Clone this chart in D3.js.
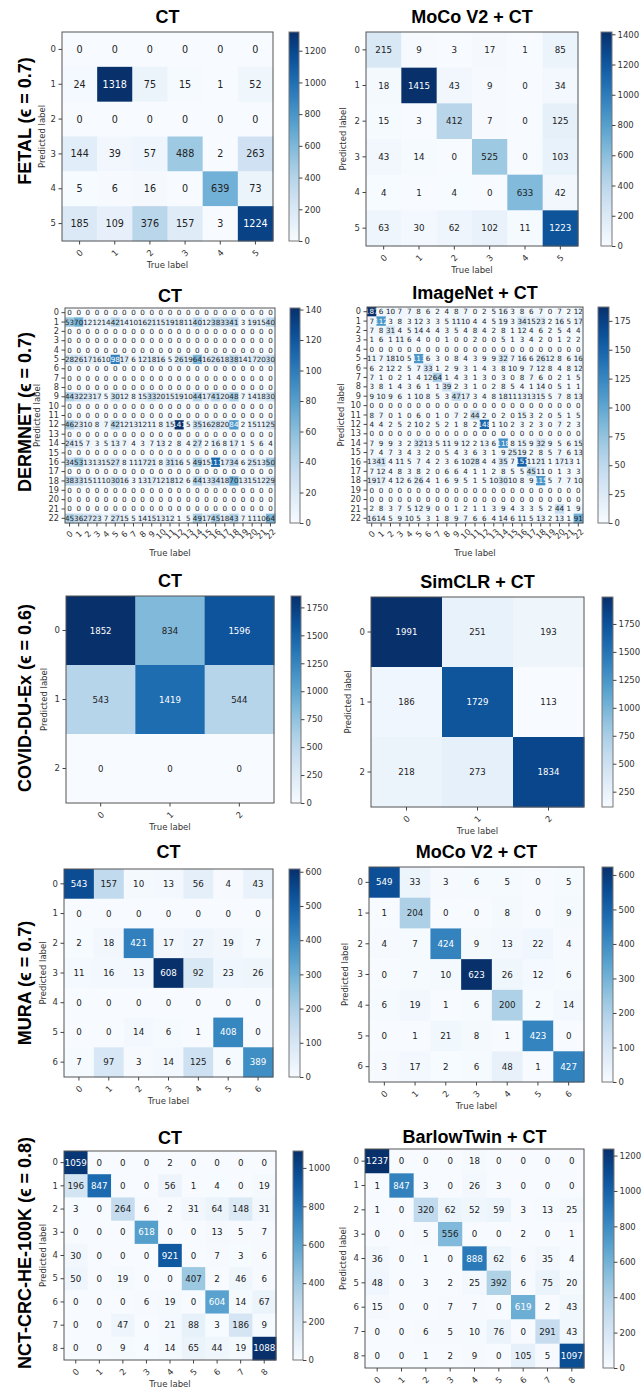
<!DOCTYPE html>
<html>
<head>
<meta charset="utf-8">
<script src="https://d3js.org/d3.v7.min.js"></script>
<style>
  body { margin: 0; background: #fff; }
  svg text { font-family: "DejaVu Sans", sans-serif; }
  .title, .rowlab { font-family: "Liberation Sans", Arial, sans-serif; font-weight: bold; }
</style>
</head>
<body>
<svg id="fig" width="643" height="1387"></svg>
<script>
// ---- data ----
const classes3 = ["0", "1", "2"];
const classes6 = ["0", "1", "2", "3", "4", "5"];
const classes7 = ["0", "1", "2", "3", "4", "5", "6"];
const classes9 = ["0", "1", "2", "3", "4", "5", "6", "7", "8"];
const classes23 = ["0", "1", "2", "3", "4", "5", "6", "7", "8", "9", "10", "11", "12",
  "13", "14", "15", "16", "17", "18", "19", "20", "21", "22"];

const rowLabels = ["FETAL (\u03F5 = 0.7)", "DERMNET (\u03F5 = 0.7)", "COVID-DU-Ex (\u03F5 = 0.6)",
  "MURA (\u03F5 = 0.7)", "NCT-CRC-HE-100K (\u03F5 = 0.8)"];

const fetalCT = [
  [0, 0, 0, 0, 0, 0],
  [24, 1318, 75, 15, 1, 52],
  [0, 0, 0, 0, 0, 0],
  [144, 39, 57, 488, 2, 263],
  [5, 6, 16, 0, 639, 73],
  [185, 109, 376, 157, 3, 1224]];
const fetalMoco = [
  [215, 9, 3, 17, 1, 85],
  [18, 1415, 43, 9, 0, 34],
  [15, 3, 412, 7, 0, 125],
  [43, 14, 0, 525, 0, 103],
  [4, 1, 4, 0, 633, 42],
  [63, 30, 62, 102, 11, 1223]];

const dermCT = [
  [0,0,0,0,0,0,0,0,0,0,0,0,0,0,0,0,0,0,0,0,0,0,0],
  [53,70,12,12,14,42,14,10,16,21,15,19,18,11,40,12,38,33,41,3,19,15,40],
  [0,0,0,0,0,0,0,0,0,0,0,0,0,0,0,0,0,0,0,0,0,0,0],
  [0,0,0,0,0,0,0,0,0,0,0,0,0,0,0,0,0,0,0,0,0,0,0],
  [0,0,0,0,0,0,0,0,0,0,0,0,0,0,0,0,0,0,0,0,0,0,0],
  [28,26,17,16,10,98,17,6,12,18,16,5,26,19,64,16,26,18,38,14,17,20,30],
  [0,0,0,0,0,0,0,0,0,0,0,0,0,0,0,0,0,0,0,0,0,0,0],
  [0,0,0,0,0,0,0,0,0,0,0,0,0,0,0,0,0,0,0,0,0,0,0],
  [0,0,0,0,0,0,0,0,0,0,0,0,0,0,0,0,0,0,0,0,0,0,0],
  [44,32,23,17,5,30,12,8,15,33,20,15,19,10,44,17,41,20,48,7,14,18,30],
  [0,0,0,0,0,0,0,0,0,0,0,0,0,0,0,0,0,0,0,0,0,0,0],
  [0,0,0,0,0,0,0,0,0,0,0,0,0,0,0,0,0,0,0,0,0,0,0],
  [46,23,10,8,7,42,12,13,12,11,8,15,141,5,35,16,28,20,84,2,15,11,25],
  [0,0,0,0,0,0,0,0,0,0,0,0,0,0,0,0,0,0,0,0,0,0,0],
  [24,15,7,3,5,13,7,4,3,7,13,2,8,4,27,2,16,8,17,1,5,6,4],
  [0,0,0,0,0,0,0,0,0,0,0,0,0,0,0,0,0,0,0,0,0,0,0],
  [34,53,13,13,15,27,8,11,17,21,8,31,16,5,49,15,111,17,34,6,25,13,50],
  [0,0,0,0,0,0,0,0,0,0,0,0,0,0,0,0,0,0,0,0,0,0,0],
  [38,33,15,11,10,30,16,3,13,17,12,18,12,6,44,13,34,18,70,13,15,12,29],
  [0,0,0,0,0,0,0,0,0,0,0,0,0,0,0,0,0,0,0,0,0,0,0],
  [0,0,0,0,0,0,0,0,0,0,0,0,0,0,0,0,0,0,0,0,0,0,0],
  [0,0,0,0,0,0,0,0,0,0,0,0,0,0,0,0,0,0,0,0,0,0,0],
  [45,36,27,23,7,27,15,5,14,15,13,12,1,5,49,17,45,18,43,7,11,10,64]];
const dermImageNet = [
  [187,6,10,7,7,8,6,2,4,8,7,0,2,5,16,3,8,6,7,0,7,2,12],
  [7,112,3,8,3,12,3,3,5,11,10,4,4,5,19,3,34,15,23,2,16,5,17],
  [7,8,31,4,5,14,4,4,3,5,4,8,4,2,8,1,12,4,6,2,5,4,4],
  [1,6,1,11,6,4,0,0,1,0,0,2,0,0,5,1,3,4,2,0,1,2,2],
  [0,0,0,0,0,0,0,0,0,0,0,0,0,0,0,0,0,0,0,0,0,0,0],
  [11,7,18,10,5,113,6,3,0,8,4,3,9,9,32,7,16,6,26,12,8,6,16],
  [6,2,12,2,5,7,33,1,2,9,3,1,4,3,8,10,9,7,12,8,4,8,12],
  [7,1,0,2,1,4,12,64,1,4,3,1,3,0,3,0,8,7,6,0,2,1,5],
  [3,8,1,4,3,6,1,1,39,2,3,1,0,2,8,5,4,1,14,0,5,1,1],
  [9,10,9,6,1,10,8,5,3,47,17,3,4,8,18,11,13,13,15,5,7,8,13],
  [0,0,0,0,0,0,0,0,0,0,0,0,0,0,0,0,0,0,0,0,0,0,0],
  [8,7,0,1,0,6,0,1,0,7,2,44,2,0,2,0,15,3,2,0,5,1,5],
  [4,4,2,5,2,10,2,5,2,1,8,2,148,1,10,2,3,2,3,0,7,2,3],
  [0,0,0,0,0,0,0,0,0,0,0,0,0,0,0,0,0,0,0,0,0,0,0],
  [7,9,9,3,2,32,13,5,11,9,12,2,13,6,118,8,15,9,32,9,5,6,15],
  [7,4,7,3,4,3,2,0,5,4,3,6,3,1,9,25,19,2,8,5,7,6,13],
  [13,41,4,11,5,7,4,2,3,6,10,28,4,4,35,7,151,11,21,1,17,13,1],
  [7,12,4,8,3,8,2,0,6,6,4,1,1,2,8,5,5,45,11,0,1,3,3],
  [19,17,4,12,6,26,4,1,6,9,5,1,5,10,30,10,8,9,115,5,7,7,10],
  [0,0,0,0,0,0,0,0,0,0,0,0,0,0,0,0,0,0,0,0,0,0,0],
  [0,0,0,0,0,0,0,0,0,0,0,0,0,0,0,0,0,0,0,0,0,0,0],
  [2,8,3,7,5,12,9,0,0,1,2,1,1,3,9,4,3,3,5,2,44,1,9],
  [16,14,5,9,10,5,3,1,8,9,7,6,6,4,14,6,11,5,13,2,13,1,91]];

const covidCT = [[1852, 834, 1596], [543, 1419, 544], [0, 0, 0]];
const covidSimclr = [[1991, 251, 193], [186, 1729, 113], [218, 273, 1834]];

const muraCT = [
  [543, 157, 10, 13, 56, 4, 43],
  [0, 0, 0, 0, 0, 0, 0],
  [2, 18, 421, 17, 27, 19, 7],
  [11, 16, 13, 608, 92, 23, 26],
  [0, 0, 0, 0, 0, 0, 0],
  [0, 0, 14, 6, 1, 408, 0],
  [7, 97, 3, 14, 125, 6, 389]];
const muraMoco = [
  [549, 33, 3, 6, 5, 0, 5],
  [1, 204, 0, 0, 8, 0, 9],
  [4, 7, 424, 9, 13, 22, 4],
  [0, 7, 10, 623, 26, 12, 6],
  [6, 19, 1, 6, 200, 2, 14],
  [0, 1, 21, 8, 1, 423, 0],
  [3, 17, 2, 6, 48, 1, 427]];

const nctCT = [
  [1059, 0, 0, 0, 2, 0, 0, 0, 0],
  [196, 847, 0, 0, 56, 1, 4, 0, 19],
  [3, 0, 264, 6, 2, 31, 64, 148, 31],
  [0, 0, 0, 618, 0, 0, 13, 5, 7],
  [30, 0, 0, 0, 921, 0, 7, 3, 6],
  [50, 0, 19, 0, 0, 407, 2, 46, 6],
  [0, 0, 0, 6, 19, 0, 604, 14, 67],
  [0, 0, 47, 0, 21, 88, 3, 186, 9],
  [0, 0, 9, 4, 14, 65, 44, 19, 1088]];
const nctBarlow = [
  [1237, 0, 0, 0, 18, 0, 0, 0, 0],
  [1, 847, 3, 0, 26, 3, 0, 0, 0],
  [1, 0, 320, 62, 52, 59, 3, 13, 25],
  [0, 0, 5, 556, 0, 0, 2, 0, 1],
  [36, 0, 1, 0, 888, 62, 6, 35, 4],
  [48, 0, 3, 2, 25, 392, 6, 75, 20],
  [15, 0, 0, 7, 7, 0, 619, 2, 43],
  [0, 0, 6, 5, 10, 76, 0, 291, 43],
  [0, 0, 1, 2, 9, 0, 105, 5, 1097]];

// colorbar ticks
const ticksFetalCT = [0, 200, 400, 600, 800, 1000, 1200];
const ticksFetalMoco = [0, 200, 400, 600, 800, 1000, 1200, 1400];
const ticksDermCT = [0, 20, 40, 60, 80, 100, 120, 140];
const ticksDermImg = [0, 25, 50, 75, 100, 125, 150, 175];
const ticksCovidCT = [0, 250, 500, 750, 1000, 1250, 1500, 1750];
const ticksCovidSim = [250, 500, 750, 1000, 1250, 1500, 1750];
const ticksMura = [0, 100, 200, 300, 400, 500, 600];
const ticksNctCT = [0, 200, 400, 600, 800, 1000];
const ticksNctBarlow = [0, 200, 400, 600, 800, 1000, 1200];

// ---- layout ----
const panels = [
  {title: "CT", data: fetalCT, cls: classes6, ticks: ticksFetalCT,
   x: 62, y: 32, w: 211, h: 209, tb: 23, cbx: 289, cbw: 10, fs: 9.6, yl: 20},
  {title: "MoCo V2 + CT", data: fetalMoco, cls: classes6, ticks: ticksFetalMoco,
   x: 366, y: 32, w: 212, h: 214, tb: 23, cbx: 601, cbw: 11, fs: 8.7, yl: 23},
  {title: "CT", data: dermCT, cls: classes23, ticks: ticksDermCT,
   x: 65, y: 308, w: 210, h: 215, tb: 302, cbx: 290, cbw: 10, fs: 7.2, yl: 28, dense: true},
  {title: "ImageNet + CT", data: dermImageNet, cls: classes23, ticks: ticksDermImg,
   x: 367, y: 307, w: 216, h: 216, tb: 299, cbx: 598, cbw: 11, fs: 7.2, yl: 26, dense: true},
  {title: "CT", data: covidCT, cls: classes3, ticks: ticksCovidCT,
   x: 66, y: 596, w: 208, h: 207, tb: 587, cbx: 291, cbw: 10, fs: 8.6, yl: 22},
  {title: "SimCLR + CT", data: covidSimclr, cls: classes3, ticks: ticksCovidSim,
   x: 371, y: 597, w: 213, h: 210, tb: 588, cbx: 602, cbw: 11, fs: 8.6, yl: 23},
  {title: "CT", data: muraCT, cls: classes7, ticks: ticksMura,
   x: 64, y: 869, w: 209, h: 208, tb: 858, cbx: 289, cbw: 11, fs: 8.7, yl: 21},
  {title: "MoCo V2 + CT", data: muraMoco, cls: classes7, ticks: ticksMura,
   x: 369, y: 867, w: 215, h: 215, tb: 858, cbx: 602, cbw: 11, fs: 8.7, yl: 24},
  {title: "CT", data: nctCT, cls: classes9, ticks: ticksNctCT,
   x: 64, y: 1151, w: 212, h: 209, tb: 1144, cbx: 293, cbw: 10, fs: 8.7, yl: 21},
  {title: "BarlowTwin + CT", data: nctBarlow, cls: classes9, ticks: ticksNctBarlow,
   x: 365, y: 1149, w: 219, h: 219, tb: 1143, cbx: 603, cbw: 11, fs: 8.7, yl: 22}
];
const rowCenters = [121, 412, 698, 983, 1253];

const svg = d3.select("#fig");
const defs = svg.append("defs");

function styleAxis(ax, size) {
  ax.select(".domain").remove();
  ax.selectAll(".tick line").attr("stroke", "#444");
  ax.selectAll(".tick text").attr("fill", "#333").style("font-size", size + "px");
}

function drawCM(p, idx) {
  const g = svg.append("g");
  const flat = p.data.flat();
  const vmin = d3.min(flat), vmax = d3.max(flat);
  const color = d3.scaleSequential(d3.interpolateBlues).domain([vmin, vmax]);
  const x = d3.scaleBand().domain(p.cls).range([p.x, p.x + p.w]);
  const y = d3.scaleBand().domain(p.cls).range([p.y, p.y + p.h]);

  const cells = [];
  p.data.forEach((row, i) => row.forEach((v, j) => cells.push({r: p.cls[i], c: p.cls[j], v: v})));

  g.selectAll("rect.cell").data(cells).join("rect")
    .attr("x", d => x(d.c)).attr("y", d => y(d.r))
    .attr("width", x.bandwidth() + 0.4).attr("height", y.bandwidth() + 0.4)
    .attr("fill", d => color(d.v));

  g.selectAll("text.val").data(cells).join("text")
    .attr("x", d => x(d.c) + x.bandwidth() / 2)
    .attr("y", d => y(d.r) + y.bandwidth() / 2)
    .attr("text-anchor", "middle").attr("dominant-baseline", "central")
    .style("font-size", p.fs + "px")
    .attr("fill", d => d.v > vmax / 2 ? "#fff" : "#222")
    .text(d => d.v);

  g.append("rect").attr("x", p.x).attr("y", p.y).attr("width", p.w).attr("height", p.h)
    .attr("fill", "none").attr("stroke", "#555").attr("stroke-width", 1);

  const tickFs = p.dense ? 8.2 : 8.5;
  const ay = g.append("g").attr("transform", `translate(${p.x},0)`)
    .call(d3.axisLeft(y).tickSize(3.5).tickPadding(2.5));
  styleAxis(ay, tickFs);

  const ax = g.append("g").attr("transform", `translate(0,${p.y + p.h})`)
    .call(d3.axisBottom(x).tickSize(3.5));
  styleAxis(ax, tickFs);
  const off = p.dense ? 11 : 12;
  ax.selectAll(".tick text")
    .attr("y", 0).attr("dy", null)
    .attr("text-anchor", "middle").attr("dominant-baseline", "central")
    .attr("transform", `translate(0,${off}) rotate(-45)`);

  g.append("text").attr("class", "title")
    .attr("x", p.x + p.w / 2).attr("y", p.tb)
    .attr("text-anchor", "middle").style("font-size", "18px").attr("fill", "#000")
    .text(p.title);

  g.append("text")
    .attr("transform", `translate(${p.x - p.yl},${p.y + p.h / 2}) rotate(-90)`)
    .attr("text-anchor", "middle").attr("dominant-baseline", "central")
    .style("font-size", "8.5px").attr("fill", "#333").text("Predicted label");

  g.append("text")
    .attr("x", p.x + p.w / 2).attr("y", p.y + p.h + (p.dense ? 30 : 24))
    .attr("text-anchor", "middle").attr("dominant-baseline", "central")
    .style("font-size", "8.5px").attr("fill", "#333").text("True label");

  // colorbar
  const gid = "cb" + idx;
  const grad = defs.append("linearGradient").attr("id", gid)
    .attr("x1", 0).attr("y1", 1).attr("x2", 0).attr("y2", 0);
  d3.range(0, 1.0001, 0.05).forEach(t => {
    grad.append("stop").attr("offset", t).attr("stop-color", d3.interpolateBlues(t));
  });
  g.append("rect").attr("x", p.cbx).attr("y", p.y).attr("width", p.cbw).attr("height", p.h)
    .attr("fill", `url(#${gid})`).attr("stroke", "#777").attr("stroke-width", 1);
  const cs = d3.scaleLinear().domain([vmin, vmax]).range([p.y + p.h, p.y]);
  const ac = g.append("g").attr("transform", `translate(${p.cbx + p.cbw},0)`)
    .call(d3.axisRight(cs).tickValues(p.ticks).tickFormat(d3.format("d")).tickSize(3.5).tickPadding(2));
  styleAxis(ac, 8.5);
}

panels.forEach(drawCM);

rowLabels.forEach((t, i) => {
  svg.append("text").attr("class", "rowlab")
    .attr("transform", `translate(31,${rowCenters[i]}) rotate(-90)`)
    .attr("text-anchor", "middle").style("font-size", "18px").attr("fill", "#000")
    .text(t);
});
</script>
</body>
</html>
